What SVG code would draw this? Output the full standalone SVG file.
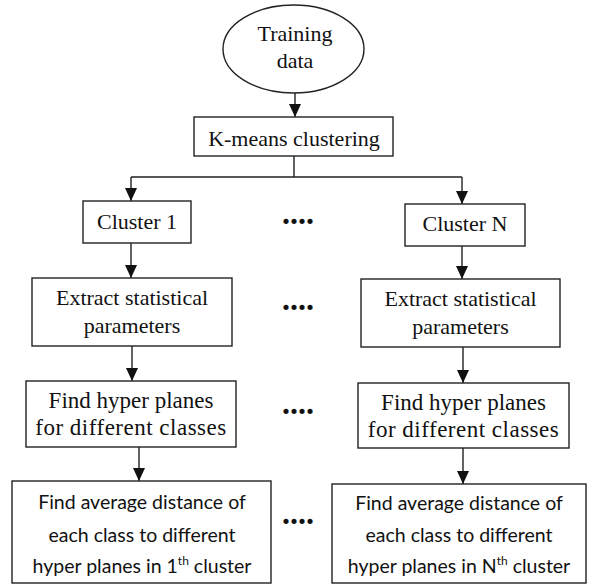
<svg xmlns="http://www.w3.org/2000/svg" width="591" height="584" viewBox="0 0 591 584">
<defs>
<marker id="ah" markerWidth="13" markerHeight="12" refX="13" refY="6" orient="auto" markerUnits="userSpaceOnUse" viewBox="0 0 13 12">
<path d="M0,0 L13,6 L0,12 Z" fill="#111"/>
</marker>
<style>
.box{fill:#fff;stroke:#222;stroke-width:1.4}
.ln{fill:none;stroke:#222;stroke-width:1.4}
.ser{font-family:"Liberation Serif","Times New Roman",serif;font-size:22px;fill:#111;text-anchor:middle}
.ser2{font-family:"Liberation Serif","Times New Roman",serif;font-size:23px;fill:#111;text-anchor:middle}
.san{font-family:Lato,"Liberation Sans",sans-serif;font-size:19.5px;fill:#111;text-anchor:middle}
.dots{font-family:"Liberation Serif",serif;font-size:32px;font-weight:bold;fill:#111}
</style>
</defs>
<rect width="591" height="584" fill="#fff"/>
<g id="connectors">
<path class="ln" d="M295,93 V117" marker-end="url(#ah)"/>
<path class="ln" d="M294,156 V177 M131,177 H462"/>
<path class="ln" d="M131,177 V201" marker-end="url(#ah)"/>
<path class="ln" d="M462,177 V204" marker-end="url(#ah)"/>
<path class="ln" d="M131,243 V278" marker-end="url(#ah)"/>
<path class="ln" d="M462,246 V279" marker-end="url(#ah)"/>
<path class="ln" d="M132,346 V381" marker-end="url(#ah)"/>
<path class="ln" d="M463,347 V383" marker-end="url(#ah)"/>
<path class="ln" d="M139,447 V481" marker-end="url(#ah)"/>
<path class="ln" d="M463,448 V484" marker-end="url(#ah)"/>
</g>
<g id="training">
<ellipse class="box" cx="293.5" cy="49" rx="70.5" ry="44"/>
<text class="ser" x="295" y="41">Training</text>
<text class="ser" x="295" y="68">data</text>
</g>
<g id="kmeans">
<rect class="box" x="194" y="117" width="199" height="39"/>
<text class="ser" x="294" y="146">K-means clustering</text>
</g>
<g id="cluster1">
<rect class="box" x="83" y="201" width="108" height="42"/>
<text class="ser" x="137" y="229">Cluster 1</text>
</g>
<g id="clusterN">
<rect class="box" x="405" y="204" width="120" height="42"/>
<text class="ser" x="465" y="231">Cluster N</text>
</g>
<g id="extract1">
<rect class="box" x="32" y="278" width="200" height="68"/>
<text class="ser" x="132" y="305">Extract statistical</text>
<text class="ser" x="132" y="333">parameters</text>
</g>
<g id="extractN">
<rect class="box" x="361" y="279" width="199" height="68"/>
<text class="ser" x="460.5" y="306">Extract statistical</text>
<text class="ser" x="460.5" y="334">parameters</text>
</g>
<g id="hyper1">
<rect class="box" x="26" y="381" width="210" height="66"/>
<text class="ser2" x="131" y="408">Find hyper planes</text>
<text class="ser2" x="131" y="435" letter-spacing="0.5">for different classes</text>
</g>
<g id="hyperN">
<rect class="box" x="358" y="383" width="211" height="65"/>
<text class="ser2" x="463.5" y="410">Find hyper planes</text>
<text class="ser2" x="463.5" y="437" letter-spacing="0.5">for different classes</text>
</g>
<g id="avg1">
<rect class="box" x="12" y="481" width="259" height="102"/>
<text class="san" x="142" y="509">Find average distance of</text>
<text class="san" x="142" y="542">each class to different</text>
<text class="san" x="142" y="573">hyper planes in 1<tspan font-size="12" dy="-8">th</tspan><tspan dy="8"> cluster</tspan></text>
</g>
<g id="avgN">
<rect class="box" x="332" y="484" width="254" height="99"/>
<text class="san" x="459" y="510">Find average distance of</text>
<text class="san" x="459" y="542">each class to different</text>
<text class="san" x="459" y="573">hyper planes in N<tspan font-size="12" dy="-8">th</tspan><tspan dy="8"> cluster</tspan></text>
</g>
<g id="ellipsis">
<text class="dots" x="282" y="224">....</text>
<text class="dots" x="282" y="310">....</text>
<text class="dots" x="282" y="414">....</text>
<text class="dots" x="282" y="524">....</text>
</g>
</svg>
